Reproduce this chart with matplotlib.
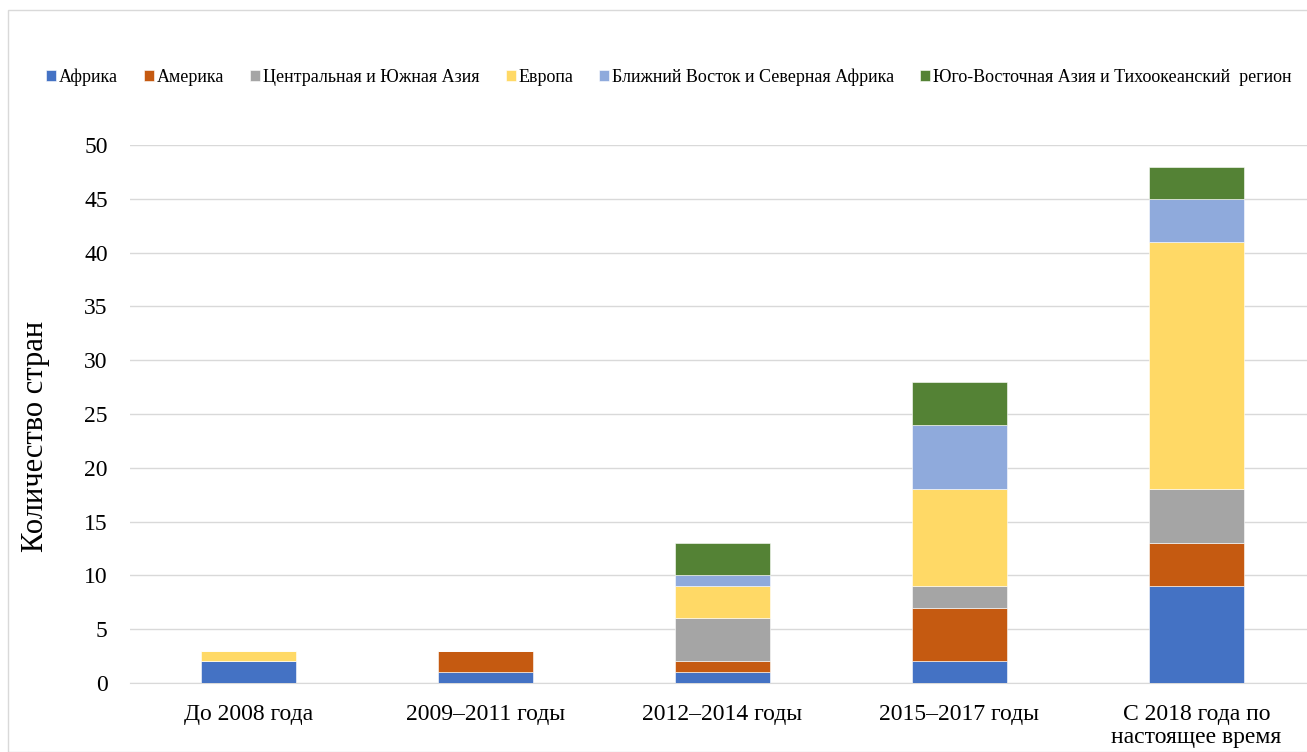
import matplotlib
matplotlib.use("Agg")
import matplotlib.pyplot as plt
from matplotlib.patches import Rectangle
import numpy as np

plt.rcParams['font.family'] = ['Liberation Serif', 'DejaVu Serif']

periods = ["До 2008 года", "2009–2011 годы", "2012–2014 годы", "2015–2017 годы",
           "С 2018 года по\nнастоящее время"]
regions = ["Африка", "Америка", "Центральная и Южная Азия", "Европа",
           "Ближний Восток и Северная Африка", "Юго-Восточная Азия и Тихоокеанский  регион"]

africa = [2, 1, 1, 2, 9]
america = [0, 2, 1, 5, 4]
central_south_asia = [0, 0, 4, 2, 5]
europe = [1, 0, 3, 9, 23]
mena = [0, 0, 1, 6, 4]
se_asia_pacific = [0, 0, 3, 4, 3]

series = [africa, america, central_south_asia, europe, mena, se_asia_pacific]
colors = ["#4472C4", "#C55A11", "#A5A5A5", "#FFD966", "#8FAADC", "#548235"]

fig = plt.figure(figsize=(13.07, 7.52), dpi=100)
fig.patches.append(Rectangle((8 / 1307, 0), 1, 1 - 10 / 752, transform=fig.transFigure,
                             fill=False, edgecolor="#D9D9D9", linewidth=1))

ax = fig.add_axes([130 / 1307, 1 - 683 / 752, 1177 / 1307, (683 - 145) / 752])
x = np.arange(len(periods))
bottom = np.zeros(len(periods))
handles = []
for vals, col, name in zip(series, colors, regions):
    v = np.array(vals, dtype=float)
    b = ax.bar(x, v, width=0.4, bottom=bottom, color=col, edgecolor="white",
               linewidth=0.4, label=name, zorder=3)
    handles.append(b)
    bottom += v

ax.set_xlim(-0.5, -0.5 + 1177 / 237)
ax.set_ylim(0, 50)
ax.set_yticks(range(0, 51, 5))
ax.yaxis.grid(True, color="#D9D9D9", linewidth=1, zorder=0)
ax.set_axisbelow(True)
for s in ["top", "right", "left"]:
    ax.spines[s].set_visible(False)
ax.spines["bottom"].set_color("#D9D9D9")
ax.tick_params(axis="y", length=0, labelsize=17, pad=16)
ax.set_xticks(x)
ax.set_xticklabels(periods, fontsize=17, linespacing=1.15)
ax.tick_params(axis="x", length=0, pad=15)
ax.set_ylabel("Количество стран", fontsize=22)
ax.yaxis.set_label_coords(-0.068, 0.459)

fig.legend(handles=handles, labels=regions, loc="center", ncol=6,
           bbox_to_anchor=(669 / 1307, 1 - 77 / 752), frameon=False,
           fontsize=13, handlelength=0.55, handleheight=0.55, handletextpad=0.15,
           columnspacing=1.45)

fig.savefig("out.png", dpi=100)
